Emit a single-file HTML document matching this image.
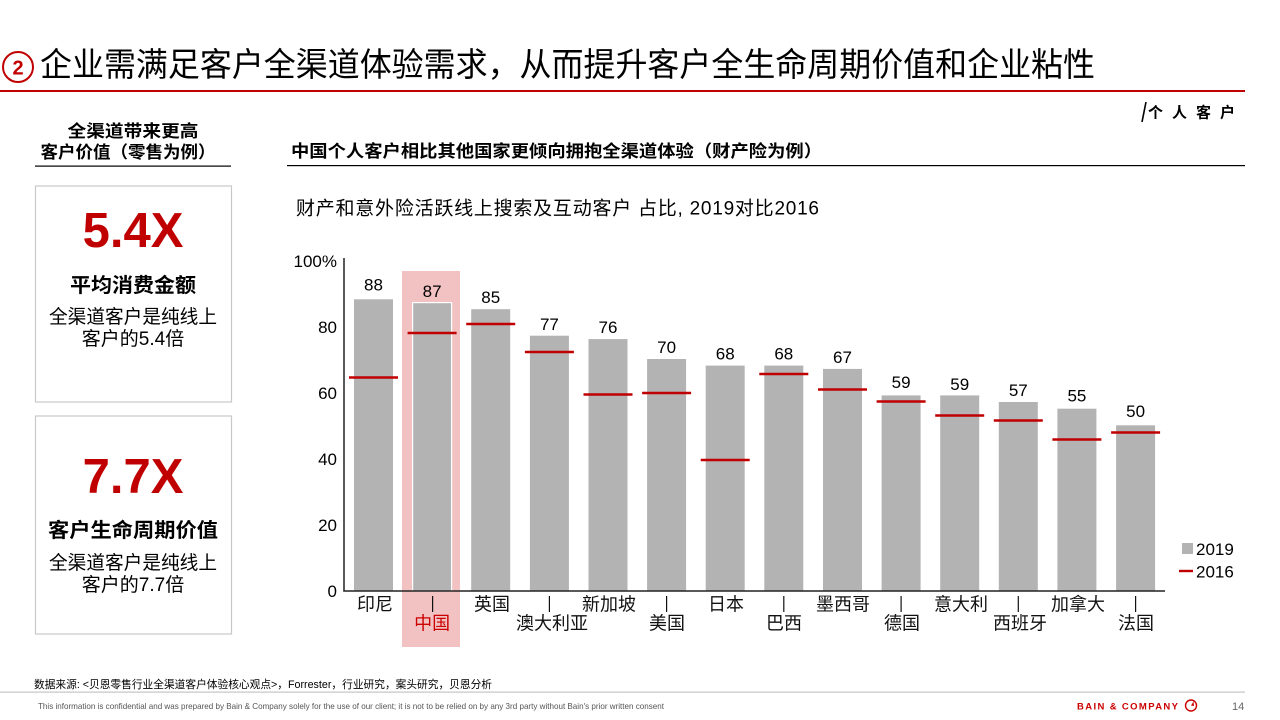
<!DOCTYPE html>
<html><head><meta charset="utf-8"><style>
html,body{margin:0;padding:0;background:#fff;}
svg{display:block;}
text{font-family:"Liberation Sans","Noto Sans CJK SC",sans-serif;}
</style></head><body>
<svg width="1280" height="720" viewBox="0 0 1280 720" xmlns="http://www.w3.org/2000/svg">
<!-- Title -->
<circle cx="18" cy="67" r="15" fill="none" stroke="#c00000" stroke-width="2"/>
<text x="18" y="74.5" text-anchor="middle" font-size="20" font-weight="bold" fill="#c00000">2</text>
<text x="40" y="76" font-size="33" fill="#000" textLength="1055" lengthAdjust="spacingAndGlyphs">企业需满足客户全渠道体验需求，从而提升客户全生命周期价值和企业粘性</text>
<rect x="0" y="90" width="1245" height="2" fill="#c00000"/>
<!-- top right tag -->
<line x1="1146" y1="102" x2="1142" y2="122" stroke="#000" stroke-width="1.6"/>
<text x="1148" y="117.5" font-size="15" font-weight="bold" textLength="87" lengthAdjust="spacing">个人客户</text>

<!-- Left header -->
<text x="133" y="137" text-anchor="middle" font-size="17" font-weight="bold" textLength="131" lengthAdjust="spacingAndGlyphs">全渠道带来更高</text>
<text x="128" y="158" text-anchor="middle" font-size="17" font-weight="bold" textLength="175" lengthAdjust="spacingAndGlyphs">客户价值（零售为例）</text>
<rect x="35" y="165.5" width="196" height="1.2" fill="#000"/>

<!-- Box 1 -->
<rect x="35.5" y="186" width="196" height="216" fill="#fff" stroke="#c8c8c8" stroke-width="1.2"/>
<text x="133" y="247" text-anchor="middle" font-size="49" font-weight="bold" fill="#c00000">5.4X</text>
<text x="133" y="292" text-anchor="middle" font-size="20" font-weight="bold" textLength="126" lengthAdjust="spacingAndGlyphs">平均消费金额</text>
<text x="133" y="323" text-anchor="middle" font-size="19" textLength="168" lengthAdjust="spacingAndGlyphs">全渠道客户是纯线上</text>
<text x="133" y="345" text-anchor="middle" font-size="19">客户的5.4倍</text>

<!-- Box 2 -->
<rect x="35.5" y="416" width="196" height="218" fill="#fff" stroke="#c8c8c8" stroke-width="1.2"/>
<text x="133" y="493" text-anchor="middle" font-size="49" font-weight="bold" fill="#c00000">7.7X</text>
<text x="133" y="537" text-anchor="middle" font-size="20" font-weight="bold" textLength="170" lengthAdjust="spacingAndGlyphs">客户生命周期价值</text>
<text x="133" y="569" text-anchor="middle" font-size="19" textLength="168" lengthAdjust="spacingAndGlyphs">全渠道客户是纯线上</text>
<text x="133" y="591" text-anchor="middle" font-size="19">客户的7.7倍</text>

<!-- Chart header -->
<text x="291" y="157" font-size="17" font-weight="bold" textLength="531" lengthAdjust="spacingAndGlyphs">中国个人客户相比其他国家更倾向拥抱全渠道体验（财产险为例）</text>
<rect x="287" y="165" width="958" height="1.2" fill="#000"/>
<text x="296" y="214.5" font-size="19" textLength="523" lengthAdjust="spacing">财产和意外险活跃线上搜索及互动客户 占比, 2019对比2016</text>

<!-- China highlight -->
<rect x="402" y="271" width="58" height="376" fill="#f2c2c2"/>

<!-- Y axis labels -->
<g font-size="17" text-anchor="end" fill="#000">
<text x="337" y="267">100%</text>
<text x="337" y="333">80</text>
<text x="337" y="399">60</text>
<text x="337" y="465">40</text>
<text x="337" y="531">20</text>
<text x="337" y="597">0</text>
</g>

<!-- Bars -->
<g fill="#b3b3b3">
<rect x="354" y="299.3" width="39" height="291.7"/>
<rect x="412.6" y="302.6" width="39" height="288.4" stroke="#fff" stroke-width="1.2"/>
<rect x="471.2" y="309.2" width="39" height="281.8"/>
<rect x="529.9" y="335.7" width="39" height="255.3"/>
<rect x="588.5" y="339.1" width="39" height="251.9"/>
<rect x="647.1" y="359" width="39" height="232"/>
<rect x="705.7" y="365.6" width="39" height="225.4"/>
<rect x="764.3" y="365.6" width="39" height="225.4"/>
<rect x="823" y="368.9" width="39" height="222.1"/>
<rect x="881.6" y="395.4" width="39" height="195.6"/>
<rect x="940.2" y="395.4" width="39" height="195.6"/>
<rect x="998.8" y="402" width="39" height="189"/>
<rect x="1057.4" y="408.7" width="39" height="182.3"/>
<rect x="1116.1" y="425.3" width="39" height="165.7"/>
</g>

<!-- 2016 markers -->
<g stroke="#c00000" stroke-width="2.4">
<line x1="349" y1="377.5" x2="398" y2="377.5"/>
<line x1="407.6" y1="333" x2="456.6" y2="333"/>
<line x1="466.2" y1="324" x2="515.2" y2="324"/>
<line x1="524.9" y1="352" x2="573.9" y2="352"/>
<line x1="583.5" y1="394.5" x2="632.5" y2="394.5"/>
<line x1="642.1" y1="393" x2="691.1" y2="393"/>
<line x1="700.7" y1="460" x2="749.7" y2="460"/>
<line x1="759.3" y1="374" x2="808.3" y2="374"/>
<line x1="818" y1="389.5" x2="867" y2="389.5"/>
<line x1="876.6" y1="401.5" x2="925.6" y2="401.5"/>
<line x1="935.2" y1="415.5" x2="984.2" y2="415.5"/>
<line x1="993.8" y1="420.5" x2="1042.8" y2="420.5"/>
<line x1="1052.4" y1="439.5" x2="1101.4" y2="439.5"/>
<line x1="1111.1" y1="432.5" x2="1160.1" y2="432.5"/>
</g>

<!-- value labels -->
<g font-size="17" text-anchor="middle" fill="#000">
<text x="373.5" y="290.3">88</text>
<text x="432.1" y="297">87</text>
<text x="490.7" y="303">85</text>
<text x="549.4" y="330">77</text>
<text x="608" y="333">76</text>
<text x="666.6" y="353">70</text>
<text x="725.2" y="359.6">68</text>
<text x="783.8" y="359.6">68</text>
<text x="842.5" y="362.9">67</text>
<text x="901.1" y="388">59</text>
<text x="959.7" y="390">59</text>
<text x="1018.3" y="396">57</text>
<text x="1076.9" y="401.5">55</text>
<text x="1135.6" y="417">50</text>
</g>

<!-- Axes -->
<line x1="344" y1="258" x2="344" y2="591.5" stroke="#222" stroke-width="1.5"/>
<line x1="343.3" y1="591" x2="1165" y2="591" stroke="#222" stroke-width="1.5"/>

<!-- Category labels -->
<g font-size="18" text-anchor="middle" fill="#111">
<text x="375" y="610.5">印尼</text>
<text x="432.1" y="629.5" fill="#cc0000">中国</text>
<text x="492" y="610.5">英国</text>
<text x="552" y="629.5">澳大利亚</text>
<text x="609" y="610.5">新加坡</text>
<text x="667" y="629.5">美国</text>
<text x="726" y="610.5">日本</text>
<text x="784" y="629.5">巴西</text>
<text x="843" y="610.5">墨西哥</text>
<text x="902" y="629.5">德国</text>
<text x="961" y="610.5">意大利</text>
<text x="1020" y="629.5">西班牙</text>
<text x="1078" y="610.5">加拿大</text>
<text x="1136" y="629.5">法国</text>
</g>
<g stroke="#111" stroke-width="1.2">
<line x1="432.6" y1="596" x2="432.6" y2="612"/>
<line x1="549.4" y1="596" x2="549.4" y2="612"/>
<line x1="666.6" y1="596" x2="666.6" y2="612"/>
<line x1="783.8" y1="596" x2="783.8" y2="612"/>
<line x1="901.1" y1="596" x2="901.1" y2="612"/>
<line x1="1018.3" y1="596" x2="1018.3" y2="612"/>
<line x1="1135.6" y1="596" x2="1135.6" y2="612"/>
</g>

<!-- Legend -->
<rect x="1182" y="543" width="11" height="11" fill="#b3b3b3"/>
<text x="1196" y="555" font-size="17">2019</text>
<line x1="1179" y1="571" x2="1193" y2="571" stroke="#c00000" stroke-width="2.4"/>
<text x="1196" y="577.5" font-size="17">2016</text>

<!-- Footer -->
<text x="34" y="688" font-size="11" textLength="458" lengthAdjust="spacingAndGlyphs">数据来源: &lt;贝恩零售行业全渠道客户体验核心观点&gt;，Forrester，行业研究，案头研究，贝恩分析</text>
<rect x="0" y="691.5" width="1245" height="1.2" fill="#c4c4c4"/>
<text x="38" y="709" font-size="8.5" fill="#555" textLength="626" lengthAdjust="spacingAndGlyphs">This information is confidential and was prepared by Bain &amp; Company solely for the use of our client; it is not to be relied on by any 3rd party without Bain's prior written consent</text>
<text x="1077" y="709.5" font-size="9.5" font-weight="bold" fill="#cc0000" textLength="101" lengthAdjust="spacing">BAIN &amp; COMPANY</text>
<circle cx="1191" cy="705.5" r="5.5" fill="none" stroke="#cc0000" stroke-width="1.4"/>
<path d="M1191 705.5 L1193.5 701.5 L1194 706 Z" fill="#cc0000"/>
<text x="1232" y="710" font-size="11" fill="#666">14</text>
</svg>
</body></html>
